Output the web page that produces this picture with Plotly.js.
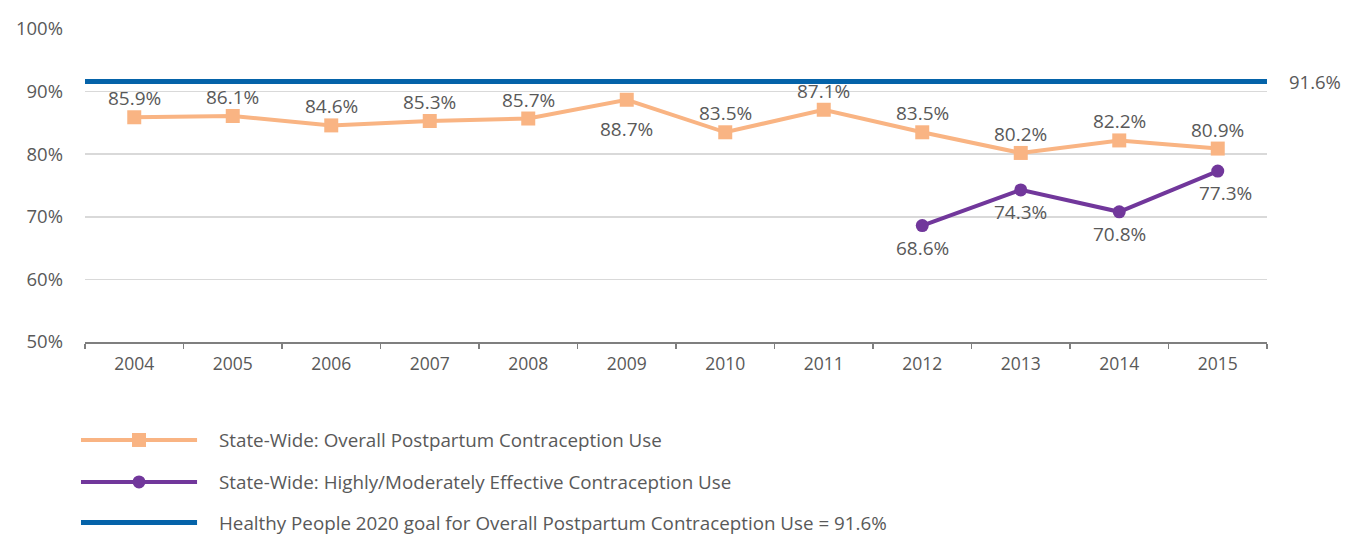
<!DOCTYPE html>
<html>
<head>
<meta charset="utf-8">
<script src="https://cdn.plot.ly/plotly-3.0.1.min.js"></script>
<style>html,body{margin:0;padding:0;background:#fff;}#chart{width:1356px;height:535px;}</style>
</head>
<body>
<div id="chart"></div>
<script>
const years = ['2004','2005','2006','2007','2008','2009','2010','2011','2012','2013','2014','2015'];
const overallUse = [85.9, 86.1, 84.6, 85.3, 85.7, 88.7, 83.5, 87.1, 83.5, 80.2, 82.2, 80.9];
const effectiveYears = ['2012','2013','2014','2015'];
const effectiveUse = [68.6, 74.3, 70.8, 77.3];
const goalValue = 91.6;
const seriesNames = [
  'State-Wide: Overall Postpartum Contraception Use',
  'State-Wide: Highly/Moderately Effective Contraception Use',
  'Healthy People 2020 goal for Overall Postpartum Contraception Use = 91.6%'
];

const cOrange = '#F9B483', cPurple = '#71379B', cBlue = '#0563A9';
const txt = '#595959';
const fam = '"Open Sans", "Noto Sans", sans-serif';

const traces = [
  {x: years, y: overallUse, type:'scatter', mode:'lines+markers', name: seriesNames[0],
   line:{color:cOrange, width:4}, marker:{symbol:'square', size:14, color:cOrange},
   cliponaxis:false, showlegend:false},
  {x: effectiveYears, y: effectiveUse, type:'scatter', mode:'lines+markers', name: seriesNames[1],
   line:{color:cPurple, width:4}, marker:{symbol:'circle', size:13, color:cPurple},
   cliponaxis:false, showlegend:false}
];

// data labels (anchored to the plotted points; category axis uses category index)
const labelFont = {family:fam, size:19, color:txt};
const dataLabels = [];
overallUse.forEach((v,i) => {
  const below = years[i] === '2009';
  dataLabels.push({xref:'x', yref:'y', x: years.indexOf(years[i]), y: v, text: v.toFixed(1)+'%', showarrow:false,
    xanchor:'center', yanchor:'middle', yshift: below ? -29 : 19, font: labelFont});
});
effectiveUse.forEach((v,i) => {
  dataLabels.push({xref:'x', yref:'y', x: years.indexOf(effectiveYears[i]), y: v, text: v.toFixed(1)+'%', showarrow:false,
    xanchor:'center', yanchor:'middle', yshift: -22, xshift: i === effectiveUse.length-1 ? 8 : 0, font: labelFont});
});

// legend geometry (paper coords)
const lx0 = -0.0034, lx1 = 0.0948, lxm = (lx0+lx1)/2, ltx = 0.1118;
const ly = [-0.313, -0.447, -0.577];
const shapes = [
  {type:'line', xref:'paper', yref:'y', x0:0, x1:1, y0:goalValue, y1:goalValue, line:{color:cBlue, width:5}, layer:'above'},
  {type:'line', xref:'paper', yref:'paper', x0:lx0, x1:lx1, y0:ly[0], y1:ly[0], line:{color:cOrange, width:4}},
  {type:'rect', xref:'paper', yref:'paper', xsizemode:'pixel', ysizemode:'pixel', xanchor:lxm, yanchor:ly[0], x0:-7, x1:7, y0:-7, y1:7, fillcolor:cOrange, line:{width:0}},
  {type:'line', xref:'paper', yref:'paper', x0:lx0, x1:lx1, y0:ly[1], y1:ly[1], line:{color:cPurple, width:4}},
  {type:'circle', xref:'paper', yref:'paper', xsizemode:'pixel', ysizemode:'pixel', xanchor:lxm, yanchor:ly[1], x0:-6.5, x1:6.5, y0:-6.5, y1:6.5, fillcolor:cPurple, line:{width:0}},
  {type:'line', xref:'paper', yref:'paper', x0:lx0, x1:lx1, y0:ly[2], y1:ly[2], line:{color:cBlue, width:5}}
];
const annotations = [
  {xref:'paper', yref:'y', x:1.0169, y:goalValue, text: goalValue.toFixed(1)+'%', showarrow:false, xanchor:'left', yanchor:'middle', font:{family:fam, size:18.5, color:txt}}
].concat(seriesNames.map((n,i) => ({xref:'paper', yref:'paper', x:ltx, y:ly[i], text:n, showarrow:false, xanchor:'left', yanchor:'middle', font:{family:fam, size:18.8, color:txt}})))
 .concat(dataLabels);

const layout = {
  width:1356, height:535,
  margin:{l:85, r:89, t:29, b:193},
  paper_bgcolor:'#fff', plot_bgcolor:'#fff',
  showlegend:false,
  font:{family:fam, color:txt},
  xaxis:{type:'category', range:[-0.5, 11.5], showgrid:false, showline:true, linecolor:'#7f7f7f', linewidth:1.5,
         ticks:'outside', tickson:'boundaries', ticklen:5, tickcolor:'#7f7f7f', tickwidth:1.5, ticklabelstandoff:5,
         tickfont:{family:fam, size:17.5, color:txt}, zeroline:false, fixedrange:true},
  yaxis:{range:[50,100], dtick:10, ticksuffix:'%', showgrid:true, gridcolor:'#d9d9d9', gridwidth:1.5,
         showline:false, zeroline:false, ticks:'', ticklabelstandoff:21,
         tickfont:{family:fam, size:18.5, color:txt}, fixedrange:true},
  shapes: shapes,
  annotations: annotations
};

Plotly.newPlot('chart', traces, layout, {displayModeBar:false, staticPlot:true});
</script>
</body>
</html>
